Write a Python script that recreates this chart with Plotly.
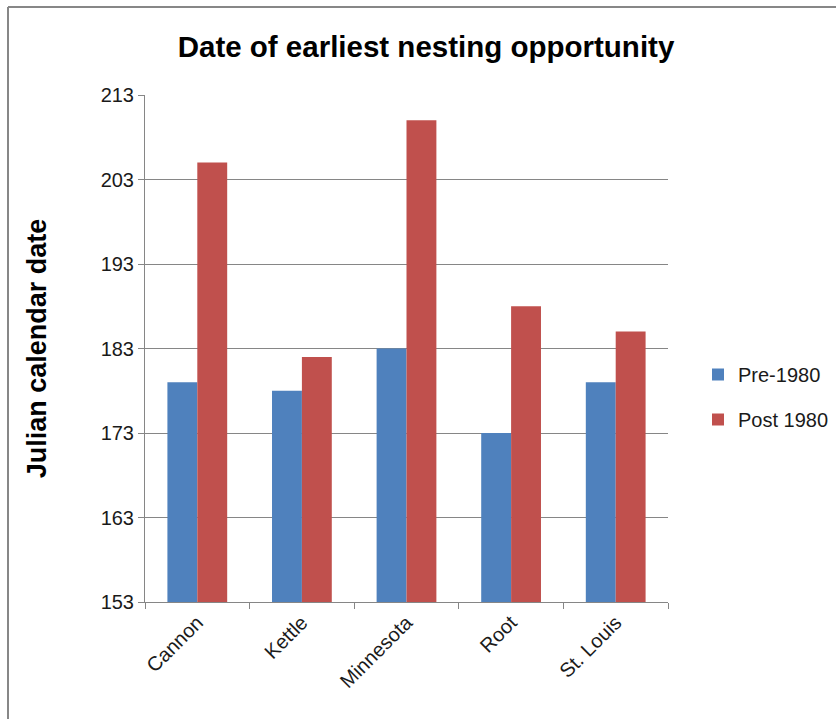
import plotly.graph_objects as go

categories = ["Cannon", "Kettle", "Minnesota", "Root", "St. Louis"]
pre_1980 = [179, 178, 183, 173, 179]
post_1980 = [205, 182, 210, 188, 185]
y_ticks = [153, 163, 173, 183, 193, 203, 213]

L, R, T, B = 145, 168, 95, 117
W, H = 836, 719
pw, ph = W - L - R, H - T - B

def px(x):
    return (x - L) / pw

def py(y):
    return 1 - (y - T) / ph

fig = go.Figure()
fig.add_trace(go.Bar(name="Pre-1980", x=categories, y=[v - 153 for v in pre_1980], base=153,
                     legendgroup="a", marker=dict(color="#4F81BD", line=dict(width=0))))
fig.add_trace(go.Bar(name="Post 1980", x=categories, y=[v - 153 for v in post_1980], base=153,
                     legendgroup="b", marker=dict(color="#C0504D", line=dict(width=0))))

font_family = "Liberation Sans, Arial, sans-serif"

fig.update_layout(
    width=W, height=H,
    margin=dict(l=L, r=R, t=T, b=B, autoexpand=False),
    paper_bgcolor="white", plot_bgcolor="white",
    barmode="group", bargap=1.5 / 3.5, bargroupgap=0,
    font=dict(family=font_family, size=20, color="#1a1a1a"),
    title=dict(text="<b>Date of earliest nesting opportunity</b>", x=(426) / W, xanchor="center",
               y=1 - 47 / H, yanchor="middle", font=dict(size=29.5, color="black")),
    legend=dict(xref="container", yref="container", x=698 / W, y=1 - 355 / H,
                xanchor="left", yanchor="top",
                font=dict(size=20, color="#1a1a1a"), tracegroupgap=16, itemwidth=30,
                traceorder="grouped", bgcolor="rgba(0,0,0,0)"),
    showlegend=True,
)
fig.update_yaxes(range=[153, 213], tickvals=y_ticks, ticktext=[str(v) for v in y_ticks],
                 showgrid=True, gridcolor="#868686", gridwidth=1,
                 showline=True, linecolor="#868686", linewidth=1,
                 ticks="outside", ticklen=6, tickcolor="#868686",
                 tickfont=dict(size=20, color="#1a1a1a"), zeroline=False,
                 title=dict(text="<b>Julian calendar date</b>", font=dict(size=27, color="black"), standoff=46))
fig.update_xaxes(showline=True, linecolor="#868686", linewidth=1,
                 ticks="outside", ticklen=6, tickcolor="#868686", tickson="boundaries",
                 tickangle=-45, tickfont=dict(size=20, color="#1a1a1a"), showgrid=False)

# outer chart border
fig.add_shape(type="line", xref="paper", yref="paper", x0=px(8), x1=px(W + 5), y0=py(7), y1=py(7),
              line=dict(color="#878787", width=2))
fig.add_shape(type="line", xref="paper", yref="paper", x0=px(8), x1=px(8), y0=py(7), y1=py(H + 5),
              line=dict(color="#878787", width=2))

fig.write_html("out.html")
